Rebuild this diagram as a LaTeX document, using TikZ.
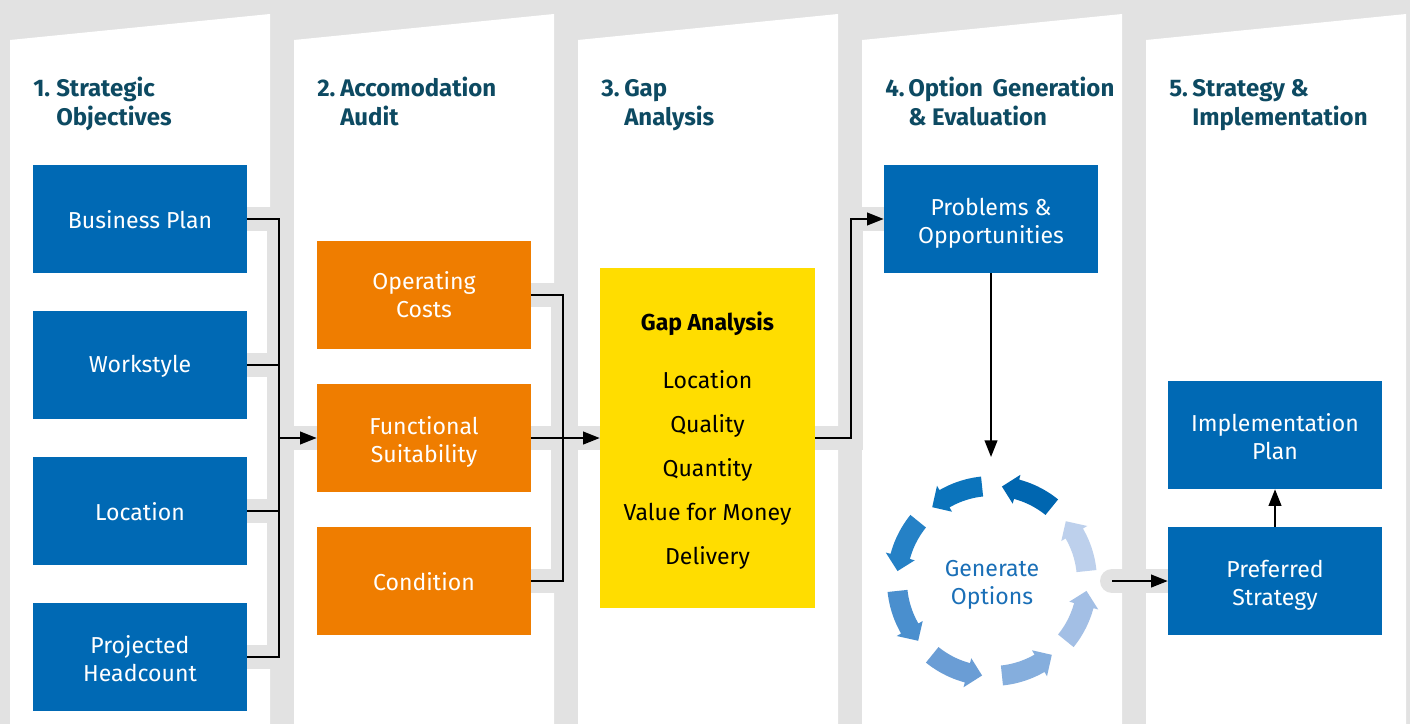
\documentclass[tikz,border=0pt]{standalone}
\usepackage{fontspec}
\setmainfont{Fira Sans}
\usetikzlibrary{arrows.meta}
\definecolor{bggrey}{HTML}{E2E2E2}
\definecolor{boxblue}{HTML}{0069B4}
\definecolor{boxorange}{HTML}{EF7D00}
\definecolor{boxyellow}{HTML}{FFDD00}
\definecolor{headteal}{HTML}{0D4A62}
\definecolor{genblue}{HTML}{1A6FB7}
\definecolor{c0}{HTML}{0066B0}
\definecolor{c1}{HTML}{0B74BC}
\definecolor{c2}{HTML}{2581C6}
\definecolor{c3}{HTML}{4A8FCE}
\definecolor{c4}{HTML}{6A9DD5}
\definecolor{c5}{HTML}{85AEDD}
\definecolor{c6}{HTML}{A3BFE5}
\definecolor{c7}{HTML}{BDD0EC}
\newcommand\dn[2][3pt]{\raisebox{-#1}[\height][\depth]{\parbox{155pt}{\centering #2}}}
\begin{document}
\begin{tikzpicture}[x=0.75pt,y=-0.75pt,
  bluebox/.style={fill=boxblue, text=white, minimum width=160.5pt, minimum height=81pt, inner sep=0pt, align=center, font=\fontsize{17.3}{21}\selectfont},
  orangebox/.style={bluebox, fill=boxorange},
  gapbox/.style={fill=boxyellow, text=black, minimum width=161.25pt, minimum height=255pt, inner sep=0pt, align=center, font=\fontsize{17.3}{33}\selectfont},
  heading/.style={anchor=base west, inner sep=0pt, text=headteal, font=\fontsize{18}{21}\selectfont\bfseries},
  gentext/.style={text=genblue, align=center, inner sep=0pt, font=\fontsize{17.3}{21}\selectfont},
  halo/.style={draw=bggrey, line width=18pt, line join=miter},
  conn/.style={draw=black, line width=1.5pt},
  arr/.style={conn, -{Triangle[length=12.5pt,width=9.5pt]}},
]
\useasboundingbox (0,0) rectangle (1410,724);
\fill[bggrey] (0,0) rectangle (1410,724);
% columns
\foreach \x in {10,294,578,862,1146}
  \fill[white] (\x,724) -- (\x,40) -- (\x+260,14) -- (\x+260,724) -- cycle;

% headings
\node[heading] (h1a) at (33,97) {\makebox[17.25pt][l]{1.}Strategic};
\node[heading] (h1b) at (56,125) {Objectives};
\node[heading] (h2a) at (317,97) {\makebox[17.25pt][l]{2.}Accomodation};
\node[heading] (h2b) at (340,125) {Audit};
\node[heading] (h3a) at (601,97) {\makebox[17.25pt][l]{3.}Gap};
\node[heading] (h3b) at (624,125) {Analysis};
\node[heading] (h4a) at (885,97) {\makebox[17.25pt][l]{4.}Option\hspace{0.4em}Generation};
\node[heading] (h4b) at (908,125) {\& Evaluation};
\node[heading] (h5a) at (1169,97) {\makebox[17.25pt][l]{5.}Strategy \&};
\node[heading] (h5b) at (1192,125) {Implementation};

% junction coordinates
\coordinate (j1) at (279,438);
\coordinate (j2) at (563,438);
\coordinate (j3) at (851,438);
\coordinate (ctop) at (991,457);
\coordinate (cr) at (1112,581);

% halos
\draw[halo] (247,219) -- (279,219) -- (279,657) -- (247,657);
\draw[halo] (247,365) -- (279,365);
\draw[halo] (247,511) -- (279,511);
\draw[halo] (j1) -- (317,438);
\draw[halo] (531,295) -- (563,295) -- (563,581) -- (531,581);
\draw[halo] (531,438) -- (600,438);
\draw[halo] (815,438) -- (851,438) -- (851,219) -- (884,219);
\draw[halo, line cap=round] (cr) -- (1168,581);

% boxes
\node[bluebox] (bp) at (140,219) {\dn[0.8pt]{Business Plan}};
\node[bluebox] (ws) at (140,365) {\dn[0.8pt]{Workstyle}};
\node[bluebox] (loc) at (140,511) {\dn[0.8pt]{Location}};
\node[bluebox] (ph) at (140,657) {\dn[1.2pt]{Projected\\Headcount}};
\node[orangebox] (oc) at (424,295) {\dn[0pt]{Operating\\Costs}};
\node[orangebox] (fs) at (424,438) {\dn[3pt]{Functional\\Suitability}};
\node[orangebox] (cond) at (424,581) {\dn[0.8pt]{Condition}};
\node[gapbox] (gap) at (707.5,438) {\dn[2.3pt]{\textbf{Gap Analysis}\\[10.5pt]Location\\Quality\\Quantity\\Value for Money\\Delivery}};
\node[bluebox] (po) at (991,219) {\dn[3pt]{Problems \&\\Opportunities}};
\node[bluebox] (impl) at (1275,435) {\dn[1.5pt]{Implementation\\Plan}};
\node[bluebox] (pref) at (1275,581) {\dn[3pt]{Preferred\\Strategy}};
\node[gentext] (gen) at (992,585) {Generate\\Options};

% cycle arrows
\foreach \k/\col in {0/c0,1/c1,2/c2,3/c3,4/c4,5/c5,6/c6,7/c7} {
  \pgfmathsetmacro\aone{51+45*\k}
  \pgfmathsetmacro\atwo{84+45*\k}
  \pgfmathsetmacro\ah{\atwo-9}
  \fill[\col] plot[domain=\aone:\ah, samples=12] ({992+105*cos(\x)},{581-105*sin(\x)})
     -- ({992+110*cos(\ah)},{581-110*sin(\ah)})
     -- ({992+95*cos(\atwo)},{581-95*sin(\atwo)})
     -- ({992+80*cos(\ah)},{581-80*sin(\ah)})
     -- plot[domain=\ah:\aone, samples=12] ({992+85*cos(\x)},{581-85*sin(\x)}) -- cycle;
}

% connectors
\draw[conn] (bp.east) -- (bp.east -| j1) -- (ph.east -| j1) -- (ph.east);
\draw[conn] (ws.east) -- (ws.east -| j1);
\draw[conn] (loc.east) -- (loc.east -| j1);
\draw[arr] (j1) -- (fs.west);
\draw[conn] (oc.east) -- (oc.east -| j2) -- (cond.east -| j2) -- (cond.east);
\draw[arr] (fs.east) -- (gap.west);
\draw[arr] (gap.east) -- (j3) |- (po.west);
\draw[arr] (po.south) -- (ctop);
\draw[arr] (cr) -- (pref.west);
\draw[arr] (pref.north) -- (impl.south);
\end{tikzpicture}
\end{document}
